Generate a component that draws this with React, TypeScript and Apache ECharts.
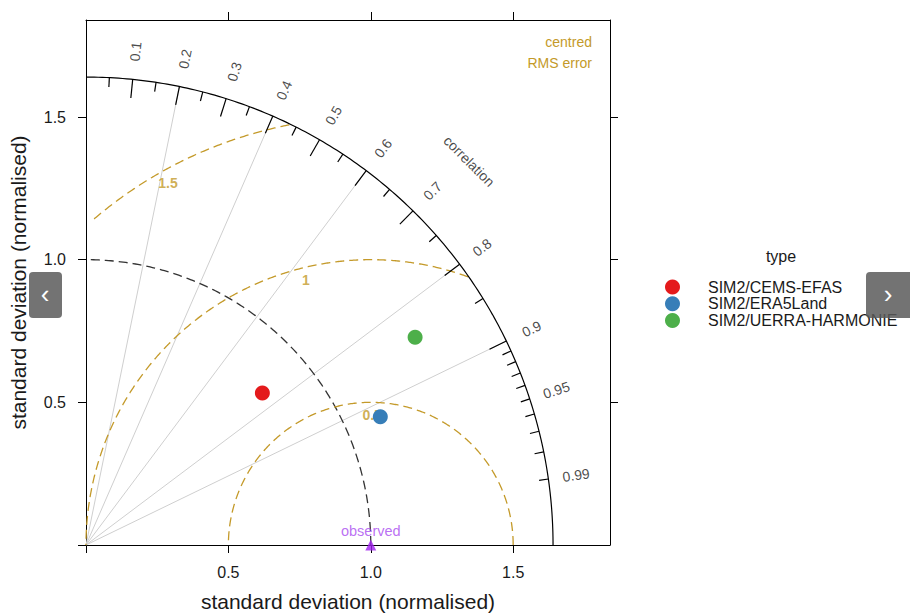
import React, { useEffect, useRef } from 'react';
import * as echarts from 'echarts';

// ---- data ----
const models = ['SIM2/CEMS-EFAS', 'SIM2/ERA5Land', 'SIM2/UERRA-HARMONIE'];
const modelSd = [0.817, 1.127, 1.366];
const modelCorr = [0.758, 0.917, 0.846];
const modelColors = ['#E41A1C', '#377EB8', '#4DAF4A'];
const observedSd = 1.0;
const maxSd = 1.64;
const corrLines = [0.2, 0.4, 0.6, 0.8, 0.9];
const corrLabels = [0.1, 0.2, 0.3, 0.4, 0.5, 0.6, 0.7, 0.8, 0.9, 0.95, 0.99];
const majorTicks = [0.1, 0.2, 0.3, 0.4, 0.5, 0.6, 0.7, 0.8, 0.9];
const minorTicks = [0.05, 0.15, 0.25, 0.35, 0.45, 0.55, 0.65, 0.75, 0.85, 0.91, 0.92, 0.93, 0.94, 0.95, 0.96, 0.97, 0.98, 0.99];
const rmsValues = [0.5, 1, 1.5];
const rmsLabelAngles = [89.4, 103.8, 119.3];
const axisTicks = [0, 0.5, 1.0, 1.5];
const axisTickLabels = [0.5, 1.0, 1.5];

const GOLD = '#C49A2A';
const TXT = '#1a1a1a';
const FONT = '"Liberation Sans", Arial, sans-serif';

function polar(r: number, c: number): [number, number] {
  return [r * c, r * Math.sqrt(Math.max(0, 1 - c * c))];
}

function arcPoints(r: number): number[][] {
  const pts: number[][] = [];
  for (let i = 0; i <= 180; i++) {
    const a = (i / 180) * (Math.PI / 2);
    pts.push([r * Math.cos(a), r * Math.sin(a)]);
  }
  return pts;
}

function rmsArc(r: number): number[][] {
  const pts: number[][] = [];
  for (let i = 0; i <= 720; i++) {
    const a = (i / 720) * Math.PI;
    const x = observedSd + r * Math.cos(a);
    const y = r * Math.sin(a);
    if (x >= 0.02 * (r > 1 ? 1 : 0) && x * x + y * y <= maxSd * maxSd) pts.push([x, y]);
  }
  return pts;
}

const plainLabel = { textBorderWidth: 0, textBorderColor: 'transparent', textShadowBlur: 0 };

export default function App() {
  const ref = useRef<HTMLDivElement>(null);
  useEffect(() => {
    if (!ref.current) return;
    const chart = echarts.init(ref.current, null, { renderer: 'svg' });

    const baseAxis = {
      type: 'value',
      min: 0,
      max: 1.84,
      interval: 0.5,
      splitLine: { show: false },
      axisLine: { show: true, onZero: false, lineStyle: { color: '#000', width: 1 } },
    };

    const series: any[] = [];
    // grey correlation lines
    series.push({
      type: 'lines',
      coordinateSystem: 'cartesian2d',
      silent: true,
      z: 1,
      lineStyle: { color: '#cfcfcf', width: 1, opacity: 1 },
      data: corrLines.map((c) => ({ coords: [[0, 0], polar(maxSd, c)] })),
    });
    // outer arc
    series.push({
      type: 'line', silent: true, symbol: 'none', z: 3,
      lineStyle: { color: '#000', width: 1.2 },
      data: arcPoints(maxSd),
    });
    // major ticks
    series.push({
      type: 'lines', coordinateSystem: 'cartesian2d', silent: true, z: 3,
      lineStyle: { color: '#000', width: 1.2, opacity: 1 },
      data: majorTicks.map((c) => ({ coords: [polar(maxSd, c), polar(maxSd * 0.96, c)] })),
    });
    // minor ticks
    series.push({
      type: 'lines', coordinateSystem: 'cartesian2d', silent: true, z: 3,
      lineStyle: { color: '#000', width: 1.2, opacity: 1 },
      data: minorTicks.map((c) => ({ coords: [polar(maxSd, c), polar(maxSd * 0.98, c)] })),
    });
    // observed sd arc
    series.push({
      type: 'line', silent: true, symbol: 'none', z: 2,
      lineStyle: { color: '#333', width: 1.3, type: [9, 5] },
      data: arcPoints(observedSd),
    });
    // rms arcs
    rmsValues.forEach((r) => {
      series.push({
        type: 'line', silent: true, symbol: 'none', z: 2,
        lineStyle: { color: GOLD, width: 1.3, type: [9, 5] },
        data: rmsArc(r),
      });
    });
    // rms labels
    series.push({
      type: 'scatter', silent: true, symbolSize: 0, z: 4,
      itemStyle: { color: GOLD },
      label: {
        show: true, position: [0, 0], align: 'center', verticalAlign: 'middle',
        color: GOLD, fontSize: 14, fontWeight: 'bold', fontFamily: FONT,
        ...plainLabel, formatter: (p: any) => p.data.name,
      },
      data: rmsValues.map((r, i) => {
        const a = (rmsLabelAngles[i] * Math.PI) / 180;
        const lr = r - 0.045;
        return { name: String(r), value: [observedSd + lr * Math.cos(a), lr * Math.sin(a)] };
      }),
    });
    // correlation labels
    series.push({
      type: 'scatter', silent: true, symbolSize: 0, z: 4,
      itemStyle: { color: '#000' },
      label: {
        show: true, position: [0, 0], align: 'center', verticalAlign: 'middle',
        color: TXT, fontSize: 14, fontFamily: FONT,
        ...plainLabel, formatter: (p: any) => p.data.name,
      },
      data: corrLabels
        .map((c) => ({
          name: String(c),
          value: polar(maxSd * 1.06, c),
          label: { rotate: (Math.acos(c) * 180) / Math.PI },
        }))
        .concat([
          {
            name: 'correlation',
            value: polar(maxSd * 1.16, Math.cos(Math.PI / 4)),
            label: { rotate: -45 },
          },
        ]),
    });
    // observed point
    series.push({
      type: 'scatter', silent: true, symbol: 'triangle', symbolSize: 11, z: 5,
      itemStyle: { color: '#A020F0' },
      label: {
        show: true, position: 'top', distance: 1, color: '#A94BF0', fontSize: 14.5, fontFamily: FONT,
        ...plainLabel, formatter: 'observed',
      },
      data: [[observedSd, 0]],
    });
    // models
    models.forEach((m, i) => {
      series.push({
        type: 'scatter', name: m, symbol: 'circle', symbolSize: 15, z: 6,
        itemStyle: { color: modelColors[i], opacity: 1 },
        data: [polar(modelSd[i], modelCorr[i])],
      });
    });

    chart.setOption({
      animation: false,
      textStyle: { fontFamily: FONT },
      grid: { left: 86, top: 20, right: 300, bottom: 68, containLabel: false, outerBoundsMode: 'none' },
      xAxis: [
        {
          ...baseAxis,
          position: 'bottom',
          name: 'standard deviation (normalised)',
          nameLocation: 'middle',
          nameGap: 46,
          nameTextStyle: { fontSize: 21, color: TXT, fontFamily: FONT },
          axisTick: { show: true, inside: false, length: 8, lineStyle: { color: '#000' }, customValues: axisTicks },
          axisLabel: { show: true, margin: 19, fontSize: 16, color: TXT, fontFamily: FONT, customValues: axisTickLabels, formatter: (v: number) => v.toFixed(1) },
        },
        {
          ...baseAxis,
          position: 'top',
          axisTick: { show: true, inside: false, length: 8, lineStyle: { color: '#000' }, customValues: axisTickLabels },
          axisLabel: { show: false },
        },
      ],
      yAxis: [
        {
          ...baseAxis,
          position: 'left',
          name: 'standard deviation (normalised)',
          nameLocation: 'middle',
          nameGap: 57,
          nameTextStyle: { fontSize: 21, color: TXT, fontFamily: FONT },
          axisTick: { show: true, inside: false, length: 8, lineStyle: { color: '#000' }, customValues: axisTicks },
          axisLabel: { show: true, margin: 20, fontSize: 16, color: TXT, fontFamily: FONT, customValues: axisTickLabels, formatter: (v: number) => v.toFixed(1) },
        },
        {
          ...baseAxis,
          position: 'right',
          axisTick: { show: true, inside: false, length: 8, lineStyle: { color: '#000' }, customValues: axisTickLabels },
          axisLabel: { show: false },
        },
      ],
      legend: {
        show: true,
        orient: 'vertical',
        left: 660,
        top: 274,
        icon: 'circle',
        itemWidth: 15,
        itemHeight: 15,
        itemGap: 0.8,
        selectedMode: false,
        data: models,
        textStyle: { fontSize: 16, lineHeight: 16, color: TXT, fontFamily: FONT, padding: [0, 0, 0, 23] },
      },
      graphic: [
        { type: 'text', x: 781, y: 256, style: { text: 'type', fontSize: 16, fill: TXT, fontFamily: FONT, align: 'center', verticalAlign: 'middle' } },
        { type: 'text', x: 592, y: 42, style: { text: 'centred', fontSize: 14, fill: GOLD, fontFamily: FONT, align: 'right', verticalAlign: 'middle' } },
        { type: 'text', x: 592, y: 63, style: { text: 'RMS error', fontSize: 14, fill: GOLD, fontFamily: FONT, align: 'right', verticalAlign: 'middle' } },
        { type: 'rect', shape: { x: 29, y: 272, width: 33, height: 46, r: 4 }, style: { fill: 'rgba(90,90,90,0.85)' }, z: 100 },
        { type: 'text', x: 45, y: 294, z: 101, style: { text: '‹', fontSize: 26, fill: '#fff', align: 'center', verticalAlign: 'middle', fontFamily: FONT } },
        { type: 'rect', shape: { x: 866, y: 272, width: 48, height: 46, r: 4 }, style: { fill: 'rgba(90,90,90,0.85)' }, z: 100 },
        { type: 'text', x: 888, y: 294, z: 101, style: { text: '›', fontSize: 26, fill: '#fff', align: 'center', verticalAlign: 'middle', fontFamily: FONT } },
      ],
      series,
    });
    return () => chart.dispose();
  }, []);
  return <div ref={ref} style={{ width: 910, height: 613, position: 'absolute', left: 0, top: 0 }} />;
}
